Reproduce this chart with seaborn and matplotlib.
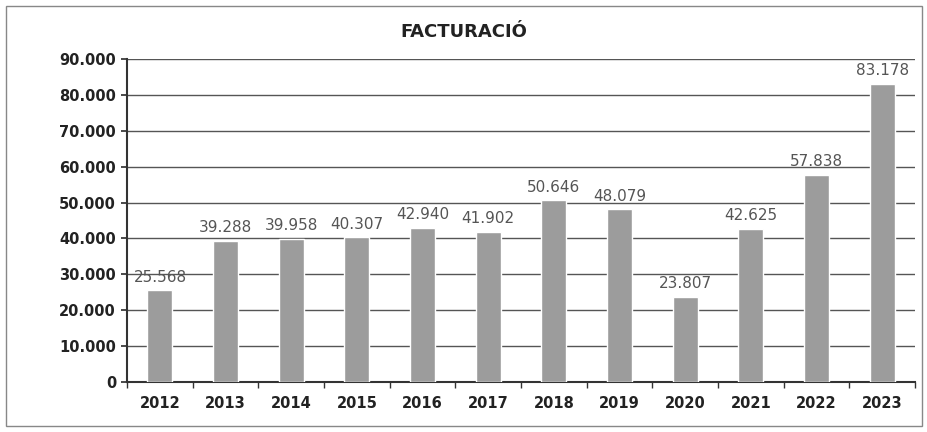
import pandas as pd
import seaborn as sns
import matplotlib.pyplot as plt
from matplotlib.patches import Rectangle

years = ['2012', '2013', '2014', '2015', '2016', '2017',
         '2018', '2019', '2020', '2021', '2022', '2023']
facturacio = [25568, 39288, 39958, 40307, 42940, 41902,
              50646, 48079, 23807, 42625, 57838, 83178]
yticks = [0, 10000, 20000, 30000, 40000, 50000, 60000, 70000, 80000, 90000]


def fmt(v):
    return f'{v:,}'.replace(',', '.')


df = pd.DataFrame({'any': years, 'valor': facturacio})

sns.set_theme(style='white')
plt.rcParams['font.family'] = ['DejaVu Sans']

fig = plt.figure(figsize=(9.28, 4.32), dpi=100)
ax = fig.add_axes([0.137, 0.116, 0.849, 0.747])

sns.barplot(data=df, x='any', y='valor', color='#9c9c9c', width=0.38,
            saturation=1, ax=ax, zorder=3)

ax.set_ylim(0, 90000)
ax.set_xlim(-0.5, len(years) - 0.5)
ax.set_yticks(yticks)
ax.set_yticklabels([fmt(v) for v in yticks], fontsize=10.5,
                   fontweight='bold', color='#222222')
ax.set_xticks(range(len(years)))
ax.set_xticklabels(years, fontsize=10.5, fontweight='bold', color='#222222')
ax.set_xticks([i + 0.5 for i in range(-1, len(years))], minor=True)
ax.grid(axis='y', color='#555555', linewidth=1, zorder=0)
ax.set_axisbelow(True)
ax.set_xlabel('')
ax.set_ylabel('')

for side in ['top', 'right']:
    ax.spines[side].set_visible(False)
for side in ['left', 'bottom']:
    ax.spines[side].set_color('#333333')
    ax.spines[side].set_linewidth(1.5)

ax.tick_params(axis='x', which='major', length=0, pad=10)
ax.tick_params(axis='x', which='minor', length=4, color='#333333',
               direction='out', bottom=True)
ax.tick_params(axis='y', length=4, color='#333333', direction='out',
               left=True, pad=4)

ax.bar_label(ax.containers[0], labels=[fmt(v) for v in facturacio],
             padding=4, fontsize=11, color='#555555')

fig.text(0.5, 0.925, 'FACTURACIÓ', ha='center', va='center',
         fontsize=13, fontweight='bold', color='#222222')

fig.patches.append(Rectangle((0.006, 0.015), 0.988, 0.97, fill=False,
                             edgecolor='#888888', linewidth=1,
                             transform=fig.transFigure, figure=fig))

plt.savefig('out.png', dpi=100)
